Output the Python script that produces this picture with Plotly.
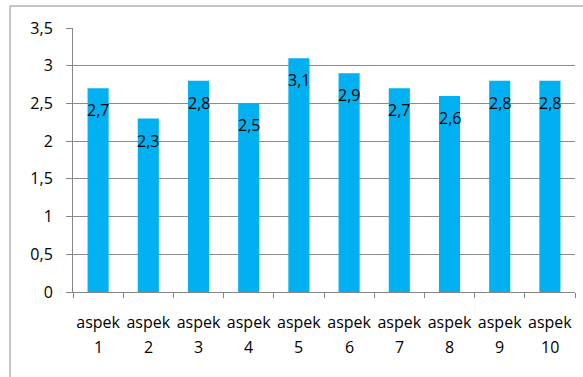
import plotly.graph_objects as go

categories = ["aspek 1", "aspek 2", "aspek 3", "aspek 4", "aspek 5",
              "aspek 6", "aspek 7", "aspek 8", "aspek 9", "aspek 10"]
tick_words = ["aspek"] * 10
tick_numbers = ["1", "2", "3", "4", "5", "6", "7", "8", "9", "10"]
values = [2.7, 2.3, 2.8, 2.5, 3.1, 2.9, 2.7, 2.6, 2.8, 2.8]
labels = ["2,7", "2,3", "2,8", "2,5", "3,1", "2,9", "2,7", "2,6", "2,8", "2,8"]

W, H = 583, 377
ml, mr, mt, mb = 73, 8, 28, 85
pw, ph = W - ml - mr, H - mt - mb

fig = go.Figure()
fig.add_trace(go.Bar(x=categories, y=values, marker=dict(color="#00B0F0", line=dict(width=0)),
                     width=0.42))

for c, v, t in zip(categories, values, labels):
    fig.add_annotation(x=c, y=v, text=t, showarrow=False, yshift=-22,
                       font=dict(size=16, color="#000000"))

for c, n in zip(categories, tick_numbers):
    fig.add_annotation(x=c, xref="x", y=0, yref="paper", yanchor="middle", text=n,
                       showarrow=False, yshift=-55, font=dict(size=16, color="#000000"))

fig.add_shape(type="rect", xref="paper", yref="paper",
              x0=(10 - ml) / pw, x1=(W + 20 - ml) / pw,
              y0=-(H + 20 - (H - mb)) / ph, y1=(H - mb - 6) / ph,
              line=dict(color="#8c8c8c", width=1), fillcolor="rgba(0,0,0,0)", layer="below")

fig.update_layout(
    width=W, height=H, margin=dict(l=ml, r=mr, t=mt, b=mb),
    paper_bgcolor="white", plot_bgcolor="white",
    separators=", ", showlegend=False,
    font=dict(family="Open Sans, Liberation Sans, sans-serif", size=16, color="#000000"),
)
fig.update_xaxes(showline=True, linecolor="#868686", linewidth=1, ticks="outside",
                 tickson="boundaries", ticklen=5, tickcolor="#868686",
                 tickvals=categories, ticktext=tick_words, tickangle=0,
                 showgrid=False, tickfont=dict(size=16), ticklabelstandoff=16)
fig.update_yaxes(range=[0, 3.5], dtick=0.5, showline=True, linecolor="#868686", linewidth=1,
                 ticks="outside", ticklen=6, tickcolor="#868686",
                 showgrid=True, gridcolor="#8c8c8c", gridwidth=1, zeroline=False,
                 tickfont=dict(size=16), ticklabelstandoff=10)

fig.write_html("out.html")
